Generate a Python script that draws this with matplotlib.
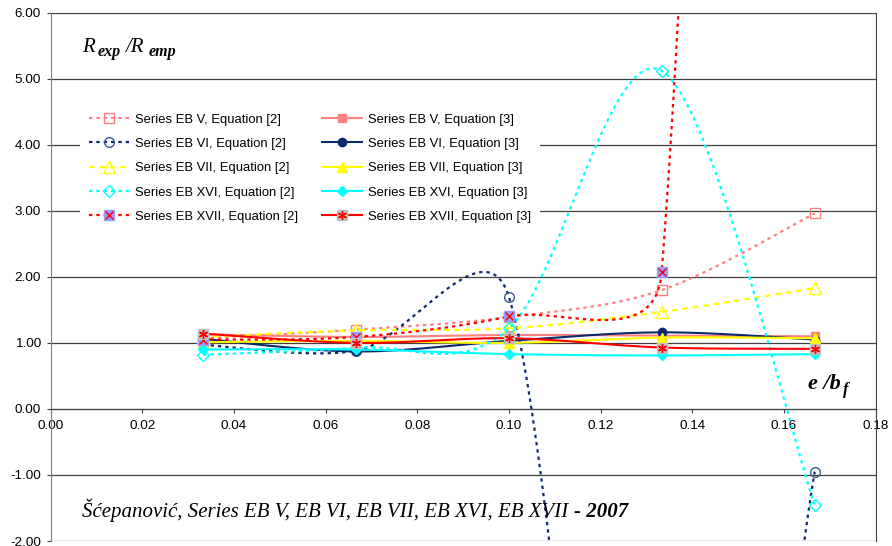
import numpy as np
import matplotlib
matplotlib.use('Agg')
import matplotlib.pyplot as plt
from matplotlib.ticker import FormatStrFormatter
from matplotlib.legend_handler import HandlerTuple

plt.rcParams['font.family'] = ['Liberation Sans', 'DejaVu Sans']
plt.rcParams['axes.unicode_minus'] = False

# e/bf of the specimens
e_bf = [0.0333, 0.0667, 0.1000, 0.1333, 0.1667]

# Rexp/Remp with Equation [2]  (VI at 0.133 and XVII at 0.167 are off the chart)
eb5_eq2 = [1.07, 1.20, 1.39, 1.80, 2.96]
eb6_eq2 = [0.97, 0.88, 1.69, -14.0, -0.95]
eb7_eq2 = [1.09, 1.19, 1.22, 1.47, 1.83]
eb16_eq2 = [0.82, 0.93, 1.22, 5.12, -1.45]
eb17_eq2 = [1.05, 1.09, 1.40, 2.07, 60.0]

# Rexp/Remp with Equation [3]
eb5_eq3 = [1.13, 1.09, 1.12, 1.11, 1.10]
eb6_eq3 = [1.06, 0.87, 1.03, 1.16, 1.05]
eb7_eq3 = [1.01, 1.03, 1.00, 1.08, 1.07]
eb16_eq3 = [0.90, 0.90, 0.83, 0.81, 0.83]
eb17_eq3 = [1.14, 1.00, 1.07, 0.93, 0.91]

# pixel scale of the plot, so the smoothing behaves like the spreadsheet one
SX = 825 / 0.18
SY = 66.0


# bezier smoothing of a polyline (spreadsheet "smoothed line")
def smooth(xs, ys, n=200):
    pts = np.column_stack([np.array(xs) * SX, np.array(ys) * SY])
    m = len(pts)
    out = []
    t = np.linspace(0, 1, n)[:, None]
    for i in range(m - 1):
        p0 = pts[max(i - 1, 0)]
        p1 = pts[i]
        p2 = pts[i + 1]
        p3 = pts[min(i + 2, m - 1)]
        d12 = np.hypot(*(p2 - p1))
        d02 = np.hypot(*(p2 - p0))
        d13 = np.hypot(*(p3 - p1))
        f1 = 1 / 6 if d02 / 6 < d12 / 2 else d12 / (2 * d02)
        f2 = 1 / 6 if d13 / 6 < d12 / 2 else d12 / (2 * d13)
        c1 = p1 + f1 * (p2 - p0)
        c2 = p2 - f2 * (p3 - p1)
        seg = (1 - t) ** 3 * p1 + 3 * (1 - t) ** 2 * t * c1 + 3 * (1 - t) * t ** 2 * c2 + t ** 3 * p2
        out.append(seg if i == 0 else seg[1:])
    arr = np.vstack(out)
    return arr[:, 0] / SX, arr[:, 1] / SY


fig = plt.figure(figsize=(8.92, 5.46), dpi=100)
ax = fig.add_axes([50.7 / 892, 5 / 546, 825 / 892, 528.3 / 546])
ax.set_xlim(0, 0.18)
ax.set_ylim(-2, 6)

pink = '#ff8080'
navy = '#0a2a6e'
yellow = '#ffff00'
cyan = '#00ffff'
red = '#ff0000'

dot = (0, (1.5, 1.8))

handles = {}

def eq2(key, ys, color, marker, mfc, mec, ms, extra=None, ls=dot):
    sx, sy = smooth(e_bf, ys)
    ln, = ax.plot(sx, sy, color=color, lw=1.6, ls=ls)
    pt, = ax.plot(e_bf, ys, ls='none', marker=marker, ms=ms, mfc=mfc, mec=mec, mew=1.0)
    h = [ln, pt]
    if extra is not None:
        ex, = ax.plot(e_bf, ys, ls='none', marker=extra[0], ms=extra[1], mec=extra[2], mew=1.0)
        h.append(ex)
    handles[key] = tuple(h)


def eq3(key, ys, color, marker, mfc, ms, extra=None):
    sx, sy = smooth(e_bf, ys)
    ln, = ax.plot(sx, sy, color=color, lw=1.5)
    pt, = ax.plot(e_bf, ys, ls='none', marker=marker, ms=ms, mfc=mfc, mec=mfc, mew=1.0)
    h = [ln, pt]
    if extra is not None:
        ex, = ax.plot(e_bf, ys, ls='none', marker=extra[0], ms=extra[1], mec=extra[2], mew=1.0)
        h.append(ex)
    handles[key] = tuple(h)


eq2('V2', eb5_eq2, pink, 's', 'none', pink, 6.5)
eq3('V3', eb5_eq3, pink, 's', pink, 5.5)
eq2('VI2', eb6_eq2, navy, 'o', 'none', '#3a5a95', 7)
eq3('VI3', eb6_eq3, navy, 'o', navy, 6)
eq2('VII2', eb7_eq2, yellow, '^', 'none', yellow, 8, ls=(0, (2.5, 2.2)))
eq3('VII3', eb7_eq3, yellow, '^', yellow, 7)
eq2('XVI2', eb16_eq2, cyan, 'D', 'none', cyan, 6)
eq3('XVI3', eb16_eq3, cyan, 'D', cyan, 5)
eq2('XVII2', eb17_eq2, red, 's', '#9999ff', '#9999ff', 7.5, extra=('x', 5.5, red))
eq3('XVII3', eb17_eq3, red, 's', '#c0c0c0', 7.5, extra=((6, 2, 0), 6.5, red))

labels = {
    'V2': 'Series EB V, Equation [2]', 'V3': 'Series EB V, Equation [3]',
    'VI2': 'Series EB VI, Equation [2]', 'VI3': 'Series EB VI, Equation [3]',
    'VII2': 'Series EB VII, Equation [2]', 'VII3': 'Series EB VII, Equation [3]',
    'XVI2': 'Series EB XVI, Equation [2]', 'XVI3': 'Series EB XVI, Equation [3]',
    'XVII2': 'Series EB XVII, Equation [2]', 'XVII3': 'Series EB XVII, Equation [3]',
}
order = ['V2', 'VI2', 'VII2', 'XVI2', 'XVII2', 'V3', 'VI3', 'VII3', 'XVI3', 'XVII3']
leg = ax.legend([handles[k] for k in order], [labels[k] for k in order],
                handler_map={tuple: HandlerTuple(ndivide=1, pad=0)},
                ncol=2, loc='upper left', bbox_to_anchor=(80 / 892, 1 - 104.5 / 546),
                bbox_transform=fig.transFigure, frameon=True, facecolor='white',
                edgecolor='none', framealpha=1, fancybox=False, fontsize=9.4,
                handlelength=3.1, handletextpad=0.45, columnspacing=1.8,
                labelspacing=0.93, borderpad=0.7, borderaxespad=0)

# axes look
ax.spines['top'].set_visible(False)
ax.spines['right'].set_color('#404040')
ax.spines['left'].set_color('#808080')
ax.spines['bottom'].set_position(('data', 0))
ax.spines['bottom'].set_color('#404040')
ax.set_yticks(np.arange(-2, 6.01, 1))
ax.set_xticks(np.arange(0, 0.1801, 0.02))
ax.yaxis.set_major_formatter(FormatStrFormatter('%.2f'))
ax.xaxis.set_major_formatter(FormatStrFormatter('%.2f'))
ax.tick_params(direction='out', length=3, width=0.8, color='#404040', labelsize=9.7, pad=4)
ax.tick_params(axis='x', pad=5)
ax.yaxis.grid(True, color='#404040', lw=0.9)
ax.set_axisbelow(True)

serif = 'Liberation Serif'


def label(x, y, txt, size, weight='normal'):
    ax.annotate(txt, xy=(x, 546 - y), xycoords='figure pixels', fontsize=size,
                family=serif, style='italic', weight=weight, va='baseline')


# R_exp / R_emp
label(82, 52, 'R', 15)
label(98, 56, 'exp', 11.5, 'bold')
label(126, 52, '/R', 15)
label(149, 56, 'emp', 11.5, 'bold')

# e / b_f
label(808, 389, 'e /b', 16, 'bold')
label(843, 394, 'f', 12, 'bold')

t1 = ax.text(82, 546 - 517, 'Šćepanović, Series EB V, EB VI, EB VII, EB XVI, EB XVII ',
             transform=None, fontsize=15, family=serif, style='italic')
ax.annotate('- 2007', xy=(1, 0), xycoords=t1, va='bottom', ha='left',
            fontsize=15, family=serif, style='italic', weight='bold')

fig.savefig('out.png', dpi=100)
